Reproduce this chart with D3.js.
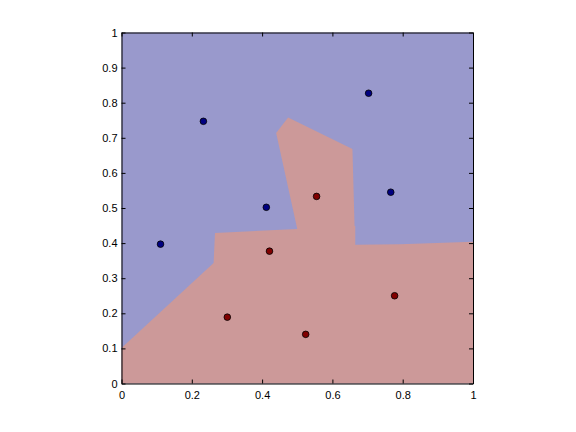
<!DOCTYPE html>
<html>
<head>
<meta charset="utf-8">
<script src="https://cdn.jsdelivr.net/npm/d3@7"></script>
<style>
  body { margin: 0; background: #fff; }
  svg text { font-family: "Liberation Sans", Arial, sans-serif; font-size: 11px; fill: #000; }
</style>
</head>
<body>
<svg id="chart" width="576" height="432"></svg>
<script>
// class 1 (blue) and class 2 (red) training points
var blueX = [0.233, 0.412, 0.703, 0.766, 0.111];
var blueY = [0.747, 0.502, 0.827, 0.545, 0.397];
var redX = [0.555, 0.421, 0.301, 0.524, 0.777];
var redY = [0.533, 0.377, 0.189, 0.140, 0.250];

// decision region for the red class (rest of the square is blue)
var regionX = [0, 1, 1, 0.793, 0.665, 0.665, 0.663, 0.657, 0.474, 0.440, 0.500, 0.266, 0.262, 0];
var regionY = [0, 0, 0.404, 0.397, 0.395, 0.449, 0.449, 0.668, 0.758, 0.714, 0.440, 0.429, 0.343, 0.101];

var xTicks = [0, 0.2, 0.4, 0.6, 0.8, 1];
var yTicks = [0, 0.1, 0.2, 0.3, 0.4, 0.5, 0.6, 0.7, 0.8, 0.9, 1];

var svg = d3.select("#chart");
var plotL = 121.5, plotR = 473, plotT = 32.5, plotB = 383.5;

var x = d3.scaleLinear().domain([0, 1]).range([plotL, plotR]);
var y = d3.scaleLinear().domain([0, 1]).range([plotB, plotT]);

// blue background
svg.append("rect")
  .attr("x", x(0)).attr("y", y(1))
  .attr("width", x(1) - x(0)).attr("height", y(0) - y(1))
  .attr("fill", "#9999cc");

// red region
var pts = regionX.map(function(d, i) { return [x(d), y(regionY[i])]; });
svg.append("path")
  .attr("d", d3.line()(pts) + "Z")
  .attr("fill", "#cc9999");

// points
function drawPoints(xs, ys, col) {
  svg.selectAll(null).data(xs).enter().append("circle")
    .attr("cx", function(d) { return x(d); })
    .attr("cy", function(d, i) { return y(ys[i]); })
    .attr("r", 3.3)
    .attr("fill", col)
    .attr("stroke", "#000")
    .attr("stroke-width", 0.8);
}
drawPoints(blueX, blueY, "#000080");
drawPoints(redX, redY, "#800000");

// axes (ticks inside, box on)
var bottomAxis = d3.axisBottom(x).tickValues(xTicks).tickSizeInner(-4).tickSizeOuter(0).tickPadding(8).tickFormat(d3.format("~g"));
var leftAxis = d3.axisLeft(y).tickValues(yTicks).tickSizeInner(-4).tickSizeOuter(0).tickPadding(4).tickFormat(d3.format("~g"));
var topAxis = d3.axisTop(x).tickValues(xTicks).tickSizeInner(-4).tickSizeOuter(0).tickFormat("");
var rightAxis = d3.axisRight(y).tickValues(yTicks).tickSizeInner(-4).tickSizeOuter(0).tickFormat("");

svg.append("g").attr("transform", "translate(0," + plotB + ")").call(bottomAxis);
svg.append("g").attr("transform", "translate(" + plotL + ",0)").call(leftAxis);
svg.append("g").attr("transform", "translate(0," + plotT + ")").call(topAxis);
svg.append("g").attr("transform", "translate(" + plotR + ",0)").call(rightAxis);

svg.selectAll(".domain").attr("stroke", "#000").attr("stroke-width", 1);
svg.selectAll(".tick line").attr("stroke", "#000");
svg.selectAll(".tick text").style("font-size", "11px").attr("fill", "#000");
</script>
</body>
</html>
